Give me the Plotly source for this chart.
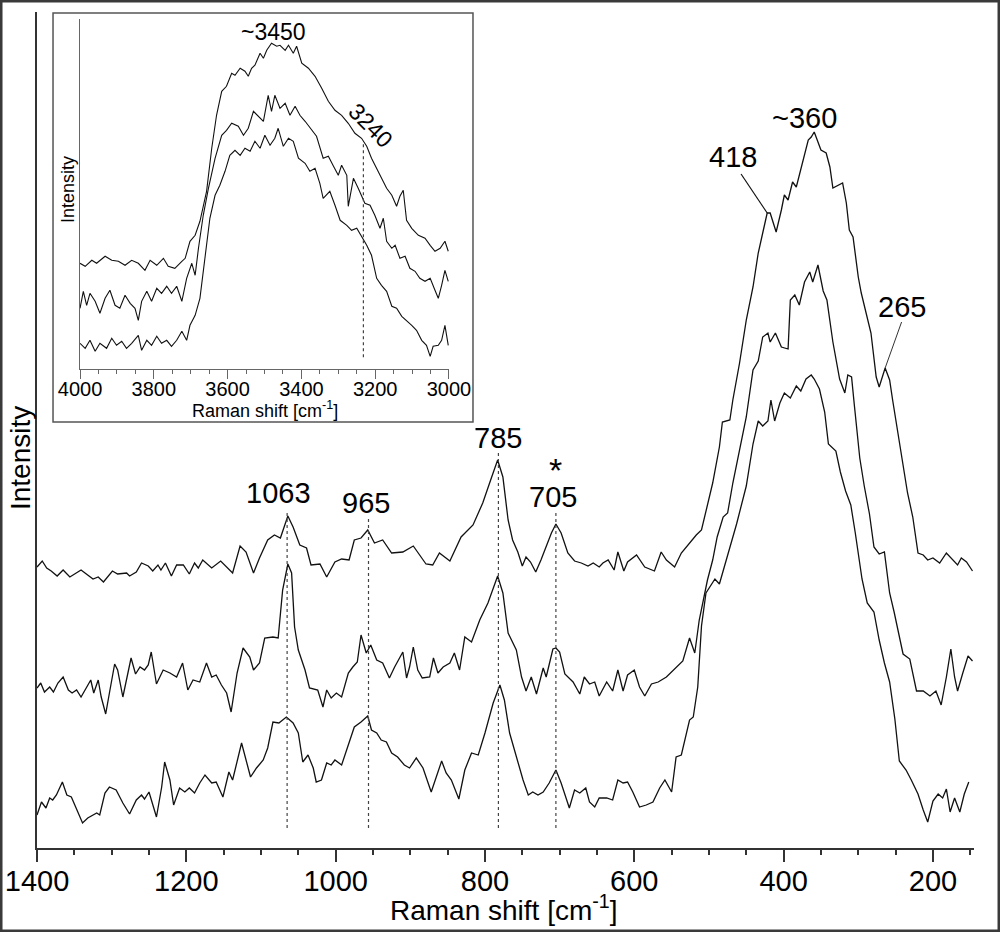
import plotly.graph_objects as go

# ---------------- main spectra (Raman shift cm-1, intensity a.u.) ----------------
top_x = [1400,1393,1387,1381,1373,1365,1356,1341,1325,1318,1311,1299,1292,1280,1276,1267,1260,1251,1245,1238,1234,1228,1220,1213,1204,1196,1189,1184,1178,1166,1154,1146,1138,1128,1120,1110,1102,1091,1082,1074,1064,1057,1048,1039,1033,1021,1012,1001,992,982,975,966,957,948,937,925,910,896,879,870,861,847,832,816,803,791,783,776,769,763,756,750,745,739,732,725,718,711,705,698,689,680,671,662,655,647,642,635,627,622,614,609,597,586,573,564,557,546,537,526,517,510,504,495,486,482,472,468,459,450,441,434,428,422,418,410,403,399,394,388,383,377,372,367,363,359,354,350,343,338,334,327,321,316,312,307,300,296,289,283,276,272,264,258,254,247,240,234,227,220,213,207,200,191,182,173,167,162,155,147]
top_y = [281,287,280,277,272,278,271,278,269,271,266,277,274,275,272,276,285,282,277,283,278,285,272,283,283,274,285,280,288,280,287,281,275,302,296,275,290,308,313,310,332,321,303,300,283,284,271,286,289,288,308,310,318,305,308,295,296,302,284,283,295,287,311,323,345,371,388,371,328,308,296,282,291,286,276,288,301,315,324,315,295,287,285,282,285,281,285,288,278,296,277,286,293,281,277,296,288,281,295,305,313,318,338,365,401,426,428,448,485,528,561,595,615,635,635,616,638,653,648,666,661,678,695,708,711,716,706,698,695,681,660,663,665,645,618,611,571,555,535,515,471,461,480,468,448,415,381,355,331,295,293,288,290,285,295,288,283,290,286,277]

mid_x = [1400,1395,1390,1383,1378,1372,1365,1358,1353,1347,1341,1334,1328,1324,1318,1314,1308,1303,1296,1292,1285,1274,1268,1262,1256,1251,1247,1240,1231,1222,1213,1205,1198,1191,1182,1173,1166,1160,1153,1146,1140,1132,1124,1115,1110,1102,1095,1084,1077,1071,1064,1059,1055,1050,1041,1035,1024,1017,1012,1006,999,992,983,977,971,966,959,953,945,937,928,921,910,905,901,896,890,884,874,869,863,856,847,841,834,827,818,807,796,783,776,769,758,751,745,738,731,722,718,709,705,700,693,682,673,667,660,653,647,637,629,622,615,609,600,593,586,577,568,557,544,535,526,519,513,508,502,495,489,481,475,468,459,450,441,434,428,421,418,411,403,394,391,385,379,372,365,361,354,347,342,334,325,318,314,309,305,298,292,285,279,272,265,258,252,240,231,222,213,204,196,189,182,176,171,167,160,153,147]
mid_y = [160,165,156,161,156,165,171,158,155,158,151,160,168,155,168,151,134,155,184,178,151,190,174,181,178,183,196,164,178,175,171,185,158,168,166,185,171,173,163,155,136,175,200,191,178,185,210,211,210,258,284,275,221,198,178,160,158,141,158,150,155,151,175,181,186,213,195,203,188,185,170,181,196,170,181,201,178,170,171,190,175,181,185,195,178,211,206,228,245,272,255,215,198,171,157,171,154,180,171,199,200,196,174,166,154,171,164,166,152,166,157,178,157,173,178,161,152,164,166,171,180,187,210,195,228,245,268,288,311,331,335,365,399,431,478,487,511,515,506,515,501,499,548,553,543,566,576,566,583,557,548,506,469,455,473,471,441,390,362,334,301,294,296,255,236,194,189,157,157,152,157,143,171,199,171,157,175,192,187]

bot_x = [1400,1394,1388,1383,1379,1374,1366,1360,1354,1347,1339,1332,1320,1316,1309,1303,1294,1285,1276,1267,1260,1256,1250,1240,1233,1229,1222,1217,1211,1209,1202,1196,1189,1182,1175,1166,1160,1151,1143,1138,1126,1121,1114,1106,1097,1091,1084,1076,1066,1057,1050,1044,1037,1030,1026,1019,1012,1006,1001,992,983,975,966,957,952,945,939,932,925,917,908,901,892,883,872,865,858,852,845,835,827,818,809,800,789,780,774,767,758,749,742,736,729,722,714,705,698,687,680,673,665,660,653,647,637,629,622,615,609,602,593,584,575,566,559,550,544,537,526,521,515,510,504,492,486,477,463,450,441,434,428,421,417,412,405,399,391,383,377,370,363,359,352,345,340,330,324,317,310,304,295,288,279,272,265,258,251,245,236,229,220,213,207,200,193,187,182,177,171,164,158,152]
bot_y = [33,46,40,50,48,53,66,53,51,38,25,30,35,33,55,61,58,45,34,48,53,49,56,31,61,86,68,43,55,60,56,60,55,65,73,65,66,51,76,68,105,91,71,80,88,100,126,125,131,125,115,86,93,80,66,68,85,83,88,83,103,121,126,132,118,115,108,106,95,91,83,80,90,80,56,71,87,75,68,49,78,95,93,115,145,163,148,115,91,68,53,56,53,56,65,78,65,40,58,55,60,46,41,50,50,48,68,65,66,56,41,43,46,60,68,56,91,93,128,131,161,222,255,269,264,287,324,362,404,427,422,427,448,427,445,455,450,462,457,469,473,469,459,436,404,397,376,357,343,315,269,245,236,208,185,166,129,87,78,68,54,38,26,47,54,50,59,36,50,36,54,66]

# ---------------- inset spectra ----------------
in_top_x = [4000,3986,3968,3955,3932,3914,3896,3878,3860,3842,3824,3810,3792,3774,3761,3743,3724,3715,3702,3688,3675,3657,3643,3630,3616,3603,3589,3580,3566,3553,3544,3535,3526,3512,3503,3494,3481,3467,3458,3444,3435,3422,3413,3399,3381,3363,3345,3327,3309,3291,3273,3255,3237,3223,3210,3196,3183,3169,3155,3142,3133,3124,3115,3101,3083,3065,3051,3038,3024,3011,3002]
in_top_y = [106,103,109,106,113,109,108,104,109,106,99,109,104,111,103,101,108,111,128,134,148,178,221,254,278,283,296,294,301,298,293,301,304,316,311,319,326,323,324,319,324,316,323,306,301,293,281,268,259,254,246,236,231,223,211,201,191,181,174,163,173,179,149,141,134,131,124,118,121,128,118]

in_mid_x = [4000,3991,3982,3973,3959,3946,3932,3919,3905,3892,3878,3864,3851,3842,3833,3819,3806,3792,3779,3765,3752,3738,3724,3711,3697,3688,3679,3666,3652,3634,3616,3603,3589,3571,3557,3544,3530,3517,3503,3490,3481,3472,3458,3444,3431,3417,3404,3390,3372,3359,3341,3327,3313,3300,3291,3277,3273,3259,3246,3237,3228,3214,3201,3187,3178,3169,3155,3146,3133,3119,3106,3092,3079,3065,3051,3038,3029,3020,3011,3002]
in_mid_y = [61,78,64,76,68,56,71,79,64,61,74,66,61,49,68,78,68,81,76,83,76,83,68,91,106,94,121,154,181,211,234,239,246,243,234,241,258,253,248,274,258,274,261,266,254,263,254,248,239,233,211,213,203,194,204,194,163,191,181,173,166,164,154,141,151,128,121,124,111,113,101,98,91,88,91,79,71,84,99,88]

in_bot_x = [4000,3986,3973,3959,3946,3928,3914,3901,3887,3874,3860,3842,3833,3819,3806,3792,3779,3765,3752,3738,3724,3711,3702,3688,3675,3661,3648,3634,3621,3607,3594,3580,3566,3553,3539,3526,3512,3499,3485,3472,3463,3449,3435,3422,3408,3390,3377,3363,3350,3341,3323,3309,3295,3277,3264,3250,3237,3223,3210,3196,3183,3169,3155,3142,3128,3115,3101,3088,3074,3061,3051,3043,3029,3020,3011,3002]
in_bot_y = [26,21,29,18,26,21,31,24,28,21,26,34,19,29,24,33,26,29,23,29,38,29,44,54,71,111,151,174,184,198,214,219,214,221,218,228,221,234,224,231,241,223,231,228,211,206,198,201,186,171,178,164,149,144,139,141,133,124,114,91,84,78,63,61,53,49,44,39,29,24,13,23,24,29,44,24]

# marked bands (cm-1) and label texts
main_marks = [1065, 956, 782, 705]
main_mark_top = [338, 330, 395, 336]
main_labels = ["1063", "965", "785", "705", "418", "~360", "265"]
main_label_x = [1076, 959, 782, 709, 468, 372, 241]
main_label_y = [355, 345, 410, 351, 691, 730, 541]
star_x, star_y = 705, 386
inset_mark = 3232
inset_labels = ["~3450", "3240"]

FONT = "Liberation Sans, Arial, sans-serif"
LC = "#111111"
AX = "#333333"

fig = go.Figure()
for xs, ys in [(top_x, top_y), (mid_x, mid_y), (bot_x, bot_y)]:
    fig.add_trace(go.Scatter(x=xs, y=ys, mode="lines", line=dict(color=LC, width=1.3),
                             hoverinfo="skip", showlegend=False))
for xs, ys in [(in_top_x, in_top_y), (in_mid_x, in_mid_y), (in_bot_x, in_bot_y)]:
    fig.add_trace(go.Scatter(x=xs, y=ys, mode="lines", line=dict(color=LC, width=1.1),
                             xaxis="x2", yaxis="y2", hoverinfo="skip", showlegend=False))

# dotted marker lines
for xv, ytop in zip(main_marks, main_mark_top):
    fig.add_shape(type="line", xref="x", yref="y", x0=xv, x1=xv, y0=20, y1=ytop,
                  line=dict(color="#444444", width=1.2, dash="dot"))
fig.add_shape(type="line", xref="x2", yref="y2", x0=inset_mark, x1=inset_mark, y0=12, y1=226,
              line=dict(color="#444444", width=1.2, dash="dot"))
# leader lines
fig.add_shape(type="line", xref="x", yref="y", x0=457, y0=674, x1=422, y1=635,
              line=dict(color=LC, width=1.2))
fig.add_shape(type="line", xref="x", yref="y", x0=242, y0=526, x1=264, y1=480,
              line=dict(color="#333333", width=1.0))

# inset frame
fig.add_shape(type="rect", xref="paper", yref="paper", x0=0.0171, x1=0.4653, y0=0.5096, y1=0.9988,
              line=dict(color="#555555", width=1.5), layer="below")
# outer border
fig.add_shape(type="rect", xref="paper", yref="paper", x0=-0.0384, x1=1.0267, y0=-0.0993, y1=1.0132,
              line=dict(color="#3a3a3a", width=3))

def A(**kw):
    d = dict(showarrow=False, xanchor="center", yanchor="middle")
    d.update(kw)
    return d

ann = []
for t, xv, yv in zip(main_labels, main_label_x, main_label_y):
    ann.append(A(x=xv, y=yv, xref="x", yref="y", text=t,
                 font=dict(family=FONT, size=29, color="black")))
ann.append(A(x=star_x, y=star_y, xref="x", yref="y", text="*", height=22, valign="top",
             font=dict(family=FONT, size=34, color="black")))
ann.append(A(x=3476, y=337, xref="x2", yref="y2", text=inset_labels[0],
             font=dict(family=FONT, size=23, color="black")))
ann.append(A(x=3214, y=244, xref="x2", yref="y2", text=inset_labels[1], textangle=45,
             font=dict(family=FONT, size=23, color="black")))
ann.append(A(x=0.4987, y=-0.0718, xref="paper", yref="paper", text="Raman shift [cm<sup>-1</sup>]",
             font=dict(family=FONT, size=28, color="black")))
ann.append(A(x=-0.0181, y=0.4665, xref="paper", yref="paper", text="Intensity", textangle=-90,
             font=dict(family=FONT, size=28, color="black")))
ann.append(A(x=0.2429, y=0.5245, xref="paper", yref="paper", text="Raman shift [cm<sup>-1</sup>]",
             font=dict(family=FONT, size=18, color="black")))
ann.append(A(x=0.0331, y=0.787, xref="paper", yref="paper", text="Intensity", textangle=-90,
             font=dict(family=FONT, size=18, color="black")))

fig.update_layout(
    width=1000, height=932,
    margin=dict(l=37, r=26, t=12, b=84),
    paper_bgcolor="white", plot_bgcolor="white",
    showlegend=False,
    annotations=ann,
    xaxis=dict(range=[1400, 145], showgrid=False, zeroline=False, showline=True, automargin=False,
               linecolor=AX, linewidth=2, ticks="outside", ticklen=12, tickwidth=1.5, tickcolor=AX,
               tick0=0, dtick=200, ticklabelstandoff=-6,
               tickfont=dict(family=FONT, size=29, color="black"),
               minor=dict(ticks="outside", dtick=50, ticklen=5, tickwidth=1.5, tickcolor=AX)),
    yaxis=dict(range=[0, 836], showgrid=False, zeroline=False, showline=True, automargin=False,
               linecolor=AX, linewidth=2, ticks="", showticklabels=False),
    xaxis2=dict(domain=[0.0459, 0.4397], anchor="y2", range=[4000, 3000], showgrid=False,
                zeroline=False, showline=True, linecolor="#666666", linewidth=1.2, automargin=False,
                ticks="outside", ticklen=9, tickwidth=1.2, tickcolor="#666666",
                tick0=0, dtick=200, ticklabelstandoff=-7,
                tickfont=dict(family=FONT, size=20, color="black"),
                minor=dict(ticks="outside", dtick=50, ticklen=4, tickwidth=1.2, tickcolor="#666666")),
    yaxis2=dict(domain=[0.5726, 0.9913], anchor="x2", range=[0, 350], showgrid=False,
                zeroline=False, showline=True, linecolor="#666666", linewidth=1.2, automargin=False,
                ticks="", showticklabels=False),
)

fig.write_html("out.html")
